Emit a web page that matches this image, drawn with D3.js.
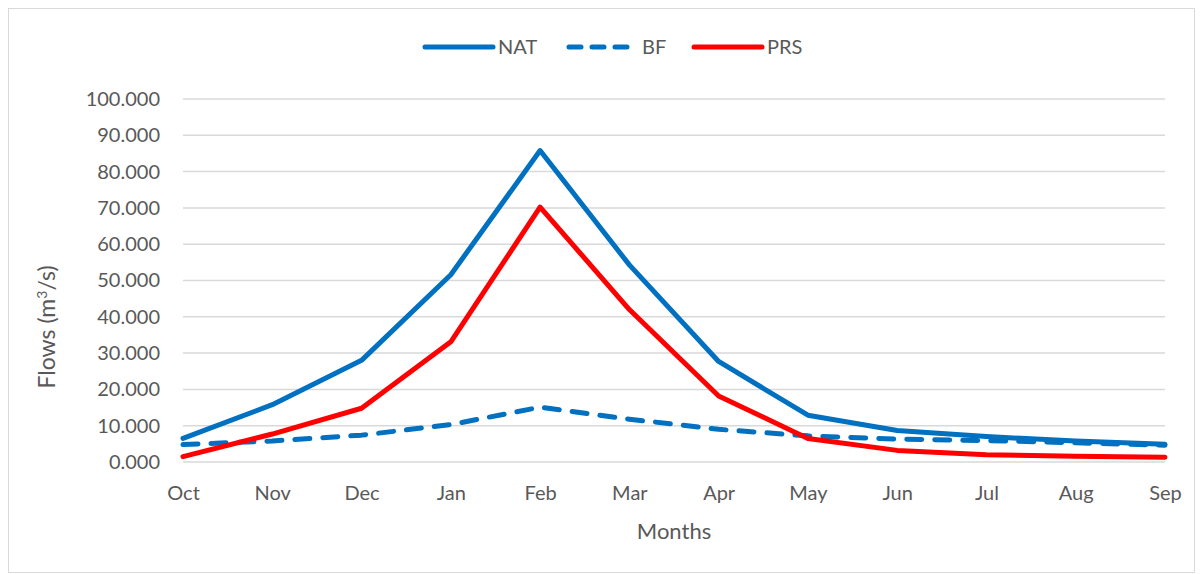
<!DOCTYPE html>
<html>
<head>
<meta charset="utf-8">
<script src="https://cdn.jsdelivr.net/npm/d3@7"></script>
<style>
  body { margin: 0; background: #fff; }
  svg { display: block; font-family: Lato, "Open Sans", sans-serif; }
</style>
</head>
<body>
<svg id="chart" width="1200" height="574"></svg>
<script>
const months = ["Oct", "Nov", "Dec", "Jan", "Feb", "Mar", "Apr", "May", "Jun", "Jul", "Aug", "Sep"];
const natValues = [6.5, 15.8, 28.0, 51.6, 85.8, 54.3, 27.7, 12.9, 8.7, 7.0, 5.8, 4.9];
const bfValues = [4.8, 5.8, 7.4, 10.3, 15.1, 11.8, 9.0, 7.2, 6.3, 5.9, 5.3, 4.6];
const prsValues = [1.5, 7.7, 14.8, 33.1, 70.2, 42.0, 18.2, 6.5, 3.2, 2.0, 1.6, 1.3];
const yTicks = [0, 10, 20, 30, 40, 50, 60, 70, 80, 90, 100];

const series = [
  { name: "NAT", values: natValues, color: "#0070C0", dash: null, legendDash: null },
  { name: "BF", values: bfValues, color: "#0070C0", dash: "15,13", legendDash: "12,11" },
  { name: "PRS", values: prsValues, color: "#FF0000", dash: null, legendDash: null }
];

const svg = d3.select("#chart");
const margin = { top: 99, right: 35, bottom: 112, left: 183 };
const width = 1200, height = 574;
const innerWidth = width - margin.left - margin.right;
const innerHeight = height - margin.top - margin.bottom;
const textColor = "#595959";

// outer chart border
svg.append("rect")
  .attr("x", 8.5).attr("y", 8.5)
  .attr("width", 1186).attr("height", 564)
  .attr("fill", "none").attr("stroke", "#d9d9d9");

const g = svg.append("g").attr("transform", `translate(${margin.left},${margin.top})`);

const x = d3.scalePoint().domain(months).range([0, innerWidth]);
const y = d3.scaleLinear().domain([0, 100]).range([innerHeight, 0]);

// gridlines
g.append("g")
  .selectAll("line")
  .data(yTicks)
  .join("line")
  .attr("x1", 0).attr("x2", innerWidth)
  .attr("y1", d => y(d)).attr("y2", d => y(d))
  .attr("stroke", "#d9d9d9")
  .attr("stroke-width", 1.5);

// y axis labels
const yAxis = g.append("g")
  .call(d3.axisLeft(y).tickValues(yTicks).tickFormat(d3.format(".3f")).tickSize(0).tickPadding(23))
  .attr("font-size", 20)
  .attr("font-family", "Lato, sans-serif");
yAxis.select(".domain").remove();
yAxis.selectAll("text").attr("fill", textColor);

// x axis labels
const xAxis = g.append("g")
  .attr("transform", `translate(0,${innerHeight})`)
  .call(d3.axisBottom(x).tickSize(0).tickPadding(24))
  .attr("font-size", 20)
  .attr("font-family", "Lato, sans-serif");
xAxis.select(".domain").remove();
xAxis.selectAll("text").attr("fill", textColor);

// lines
const line = d3.line()
  .x((d, i) => x(months[i]))
  .y(d => y(d));

g.append("g")
  .selectAll("path")
  .data(series)
  .join("path")
  .attr("d", d => line(d.values))
  .attr("fill", "none")
  .attr("stroke", d => d.color)
  .attr("stroke-width", 5)
  .attr("stroke-linejoin", "round")
  .attr("stroke-linecap", "round")
  .attr("stroke-dasharray", d => d.dash);

// axis titles
svg.append("text")
  .attr("x", margin.left + innerWidth / 2)
  .attr("y", 539)
  .attr("text-anchor", "middle")
  .attr("fill", textColor)
  .attr("font-size", 22)
  .text("Months");

const yTitle = svg.append("text")
  .attr("transform", "translate(55,327) rotate(-90)")
  .attr("text-anchor", "middle")
  .attr("fill", textColor)
  .attr("font-size", 23);
yTitle.append("tspan").text("Flows (m");
yTitle.append("tspan").attr("baseline-shift", "super").attr("font-size", 14).text("3");
yTitle.append("tspan").text("/s)");

// legend
const legendItems = [
  { s: series[0], x0: 425, x1: 493, tx: 498 },
  { s: series[1], x0: 569, x1: 629, tx: 642 },
  { s: series[2], x0: 694, x1: 762, tx: 767 }
];
const legend = svg.append("g");
legendItems.forEach(item => {
  legend.append("line")
    .attr("x1", item.x0).attr("x2", item.x1)
    .attr("y1", 47).attr("y2", 47)
    .attr("stroke", item.s.color)
    .attr("stroke-width", 5)
    .attr("stroke-linecap", "round")
    .attr("stroke-dasharray", item.s.legendDash);
  legend.append("text")
    .attr("x", item.tx).attr("y", 47)
    .attr("dy", "0.35em")
    .attr("fill", textColor)
    .attr("font-size", 20)
    .text(item.s.name);
});
</script>
</body>
</html>
